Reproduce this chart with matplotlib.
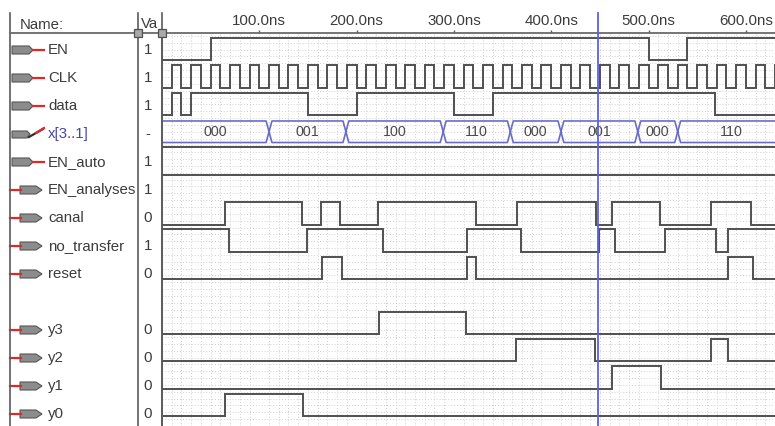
import matplotlib.pyplot as plt
from matplotlib.lines import Line2D
from matplotlib.patches import Polygon, Rectangle

plt.rcParams['font.family'] = ['Liberation Sans', 'DejaVu Sans']

W, H = 775, 426

# signal list (top to bottom), row index 9 is the blank separator
names = ['EN', 'CLK', 'data', 'x[3..1]', 'EN_auto', 'EN_analyses', 'canal',
         'no_transfer', 'reset', 'y3', 'y2', 'y1', 'y0']
values = ['1', '1', '1', '-', '1', '1', '0', '1', '0', '0', '0', '0', '0']
rows = [0, 1, 2, 3, 4, 5, 6, 7, 8, 10, 11, 12, 13]
pins = ['in', 'in', 'in', 'bus', 'in', 'out', 'out', 'out', 'out', 'out', 'out', 'out', 'out']

t_end = 640  # ns

# binary waveforms: initial level, toggle times in ns
en_init, en_edges = 0, [50, 500, 540]
clk_init, clk_edges = 0, [10, 20, 30, 40, 50, 60, 70, 80, 90, 100, 110, 120, 130, 140, 150,
                          160, 170, 180, 190, 200, 210, 220, 230, 240, 250, 260, 270, 280,
                          290, 300, 310, 320, 330, 340, 350, 360, 370, 380, 390, 400, 410,
                          420, 430, 440, 450, 460, 470, 480, 490, 500, 510, 520, 530, 540,
                          550, 560, 570, 580, 590, 600, 610, 620, 630]
data_init, data_edges = 0, [10, 20, 30, 150, 200, 300, 340, 568]
en_auto_init, en_auto_edges = 1, []
en_an_init, en_an_edges = 1, []
canal_init, canal_edges = 0, [65, 144, 163, 183, 222, 323, 365, 446, 462, 512, 564, 605]
notr_init, notr_edges = 1, [69, 149, 227, 313, 369, 449, 466, 517, 569, 582]
reset_init, reset_edges = 0, [164, 185, 313, 323, 582, 607]
y3_init, y3_edges = 0, [223, 312]
y2_init, y2_edges = 0, [364, 445, 564, 582]
y1_init, y1_edges = 0, [462, 513]
y0_init, y0_edges = 0, [65, 145]

# bus x[3..1]
bus_times = [0, 110, 189, 289, 358, 410, 489, 530, 640]
bus_values = ['000', '001', '100', '110', '000', '001', '000', '110']

cursor_t = 448
tick_times = [100, 200, 300, 400, 500, 600]
tick_labels = ['100.0ns', '200.0ns', '300.0ns', '400.0ns', '500.0ns', '600.0ns']

waves = [(0, en_init, en_edges), (1, clk_init, clk_edges), (2, data_init, data_edges),
         (4, en_auto_init, en_auto_edges), (5, en_an_init, en_an_edges),
         (6, canal_init, canal_edges), (7, notr_init, notr_edges), (8, reset_init, reset_edges),
         (10, y3_init, y3_edges), (11, y2_init, y2_edges), (12, y1_init, y1_edges),
         (13, y0_init, y0_edges)]

WAVE = '#505050'
BUS = '#6c6cc8'
CURSOR = '#5e5ee8'
FRAME = '#5a5a5a'
TXT = '#3c3c3c'

top_px, left_px = 33, 162
ylim = (13 + 12 / 28, -17 / 28)


def lev(row, v):
    return row - 12 / 28 if v else row + 11 / 28


def fx(x):
    return x / W


def fy(y):
    return 1 - y / H


fig = plt.figure(figsize=(W / 100, H / 100), dpi=100)
fig.patch.set_facecolor('white')

ax = fig.add_axes([fx(left_px), 0, 1 - fx(left_px), 1 - top_px / H])
ax.set_xlim(0, 619)
ax.set_ylim(*ylim)

# dotted background grid
ax.set_xticks(range(0, 640, 10), minor=True)
ax.set_yticks([r / 4 for r in range(-2, 56)], minor=True)
ax.set_yticks([])
ax.grid(which='minor', ls=(0, (1, 2)), color='#d0d0d0', lw=0.7)
ax.set_axisbelow(True)

ax.xaxis.tick_top()
ax.set_xticks(tick_times)
ax.set_xticklabels(tick_labels, fontsize=10.8, color=TXT)
ax.tick_params(axis='x', which='major', length=2.5, width=1, color=FRAME, pad=1.0)
ax.tick_params(axis='x', which='minor', length=0)
ax.tick_params(axis='y', which='both', length=0)
for s in ['right', 'bottom']:
    ax.spines[s].set_visible(False)
ax.spines['top'].set_color('#6a6a6a')
ax.spines['top'].set_linewidth(1.3)
ax.spines['left'].set_color(FRAME)
ax.spines['left'].set_linewidth(1.2)

for row, init, edges in waves:
    xs, ys = [0], [lev(row, init)]
    v = init
    for e in edges:
        xs += [e, e]
        ys += [lev(row, v), lev(row, 1 - v)]
        v = 1 - v
    xs.append(t_end)
    ys.append(lev(row, v))
    ax.plot(xs, ys, color=WAVE, lw=1.4, solid_joinstyle='miter')

# bus
brow = 3
btop, bbot = brow - 11 / 28, brow + 11 / 28
d = 3
for t0, t1, val in zip(bus_times[:-1], bus_times[1:], bus_values):
    if t0 == 0:
        px = [t0, t1 - d, t1, t1 - d, t0]
        py = [btop, btop, brow, bbot, bbot]
    else:
        px = [t0, t0 + d, t1 - d, t1, t1 - d, t0 + d, t0]
        py = [brow, btop, btop, brow, bbot, bbot, brow]
    ax.plot(px, py, color=BUS, lw=1.2)
    ax.text((t0 + t1) / 2, brow + 0.02, val, ha='center', va='center',
            fontsize=10.3, color='#4a4a4a')

ax.axvline(cursor_t, ymin=0, ymax=1 + 20 / (H - top_px), clip_on=False,
           color=CURSOR, lw=1.3, zorder=6)

# name / value panel
axl = fig.add_axes([0, 0, fx(left_px), 1 - top_px / H])
axl.set_xlim(0, left_px)
axl.set_ylim(*ylim)
axl.axis('off')
u = 1 / 28
for name, val, row, pin in zip(names, values, rows, pins):
    col = '#4646a8' if pin == 'bus' else TXT
    axl.text(48, row, name, ha='left', va='center', fontsize=10.8, color=col)
    axl.text(148, row, val, ha='center', va='center', fontsize=10.8, color=TXT)
    if pin == 'in':
        axl.add_patch(Polygon([(12, row - 4 * u), (29, row - 4 * u), (33, row), (29, row + 4 * u),
                               (12, row + 4 * u)], closed=True, fc='#8c8c8c', ec='#555555', lw=0.8))
        axl.plot([33, 44], [row, row], color='#e02828', lw=1.6)
    elif pin == 'bus':
        axl.add_patch(Polygon([(12, row - 3 * u), (27, row - 3 * u), (30, row), (27, row + 4 * u),
                               (12, row + 4 * u)], closed=True, fc='#8c8c8c', ec='#555555', lw=0.8))
        axl.plot([29, 43], [row + 3 * u, row - 5 * u], color='#303030', lw=1.6)
        axl.plot([36, 44], [row - 1 * u, row - 6 * u], color='#e02828', lw=1.6)
    else:
        axl.plot([10, 21], [row, row], color='#e02828', lw=1.6)
        axl.add_patch(Polygon([(20, row - 4 * u), (36, row - 4 * u), (42, row), (36, row + 4 * u),
                               (20, row + 4 * u)], closed=True, fc='#8c8c8c', ec='#555555', lw=0.8))

# header texts and frame lines
fig.text(fx(20), fy(25), 'Name:', ha='left', va='center', fontsize=10.8, color=TXT)
fig.text(fx(141), fy(24), 'Va', ha='left', va='center', fontsize=10.8, color=TXT)
for x in [10, 138, 162]:
    fig.add_artist(Line2D([fx(x), fx(x)], [fy(13), fy(H)], color=FRAME, lw=1.2))
fig.add_artist(Line2D([fx(10), fx(162)], [fy(33), fy(33)], color='#6a6a6a', lw=1.3))
for x in [138, 162]:
    fig.add_artist(Rectangle((fx(x - 4), fy(37)), 8 / W, 8 / H, transform=fig.transFigure,
                             fc='#a8a8a8', ec='#505050', lw=0.9, zorder=10))

fig.savefig('out.png', dpi=100)
